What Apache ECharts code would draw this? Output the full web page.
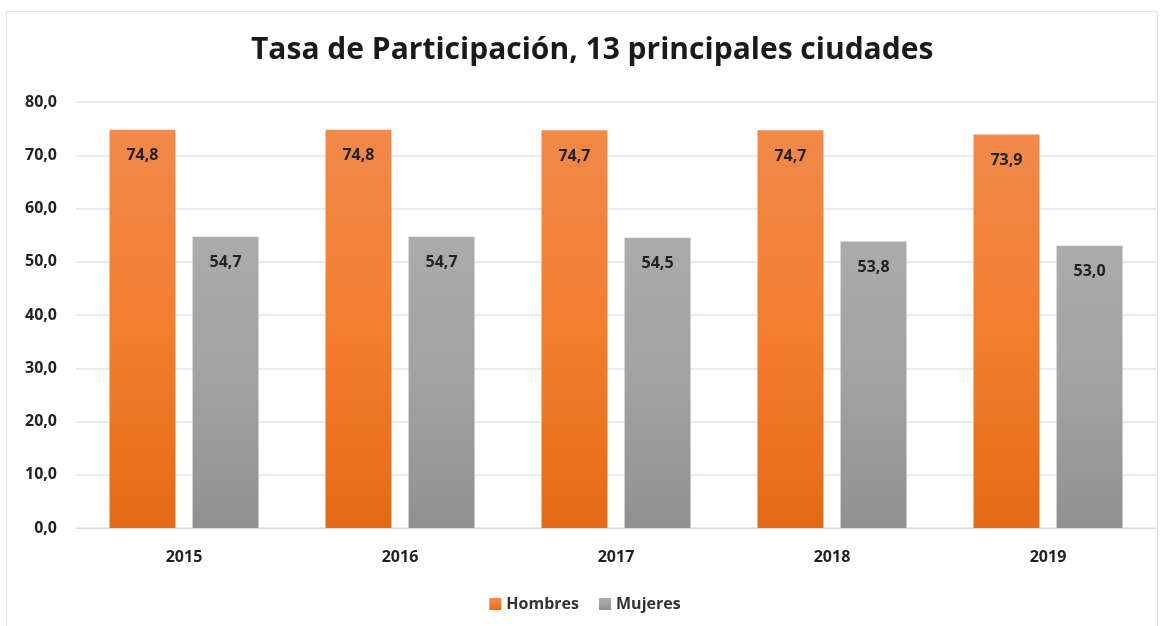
<!DOCTYPE html>
<html>
<head>
<meta charset="utf-8">
<script src="https://cdn.jsdelivr.net/npm/echarts@6/dist/echarts.min.js"></script>
<style>
    html, body { margin: 0; padding: 0; background: #fff; }
    #chart { width: 1170px; height: 626px; }
</style>
</head>
<body>
<div id="chart"></div>
<script>
// datos
var years = ['2015', '2016', '2017', '2018', '2019'];
var hombres = [74.8, 74.8, 74.7, 74.7, 73.9];
var mujeres = [54.7, 54.7, 54.5, 53.8, 53.0];
var yTicks = [0, 10, 20, 30, 40, 50, 60, 70, 80];

var fmt = function (v) {
    return Number(v).toFixed(1).replace('.', ',');
};

var chart = echarts.init(document.getElementById('chart'));

var option = {
    backgroundColor: '#fff',
    animation: false,
    textStyle: { fontFamily: 'Open Sans' },
    title: {
        text: 'Tasa de Participación, 13 principales ciudades',
        left: 246,
        top: 30,
        textStyle: { fontSize: 30, fontWeight: 'bold', color: '#1a1a1a', fontFamily: 'Open Sans' }
    },
    legend: {
        data: ['Hombres', 'Mujeres'],
        top: 591,
        left: 'center',
        itemWidth: 12,
        itemHeight: 12,
        itemGap: 20,
        icon: 'rect',
        textStyle: { fontSize: 16, color: '#333', fontWeight: 'bold' }
    },
    graphic: [{
        type: 'rect',
        shape: { x: 6.5, y: 11.5, width: 1151, height: 700 },
        style: { fill: 'none', stroke: '#dfe3ea', lineWidth: 1 },
        silent: true
    }],
    grid: { left: 76, right: 14, top: 102, bottom: 98 },
    xAxis: {
        type: 'category',
        data: years,
        axisTick: { show: false },
        axisLine: { lineStyle: { color: '#d9dde6' } },
        axisLabel: { fontSize: 16, fontWeight: 'bold', color: '#222', margin: 21 }
    },
    yAxis: {
        type: 'value',
        min: yTicks[0],
        max: yTicks[yTicks.length - 1],
        interval: 10,
        axisLine: { show: false },
        axisTick: { show: false },
        splitLine: { lineStyle: { color: '#e1e5ee', width: 1.5 } },
        axisLabel: { fontSize: 16, fontWeight: 'bold', color: '#222', margin: 19, formatter: fmt }
    },
    series: [{
        name: 'Hombres',
        type: 'bar',
        data: hombres,
        barGap: '26%',
        barCategoryGap: '31%',
        itemStyle: {
            color: new echarts.graphic.LinearGradient(0, 0, 0, 1, [
                { offset: 0, color: '#F1894A' },
                { offset: 0.5, color: '#F27E2E' },
                { offset: 1, color: '#E56A17' }
            ])
        },
        label: {
            show: true,
            position: 'insideTop',
            distance: 18,
            fontSize: 16,
            fontWeight: 'bold',
            color: '#222',
            formatter: function (p) { return fmt(p.value); }
        }
    }, {
        name: 'Mujeres',
        type: 'bar',
        data: mujeres,
        itemStyle: {
            color: new echarts.graphic.LinearGradient(0, 0, 0, 1, [
                { offset: 0, color: '#ABABAB' },
                { offset: 0.5, color: '#A2A2A2' },
                { offset: 1, color: '#909090' }
            ])
        },
        label: {
            show: true,
            position: 'insideTop',
            distance: 18,
            fontSize: 16,
            fontWeight: 'bold',
            color: '#222',
            formatter: function (p) { return fmt(p.value); }
        }
    }]
};

chart.setOption(option);
</script>
</body>
</html>
